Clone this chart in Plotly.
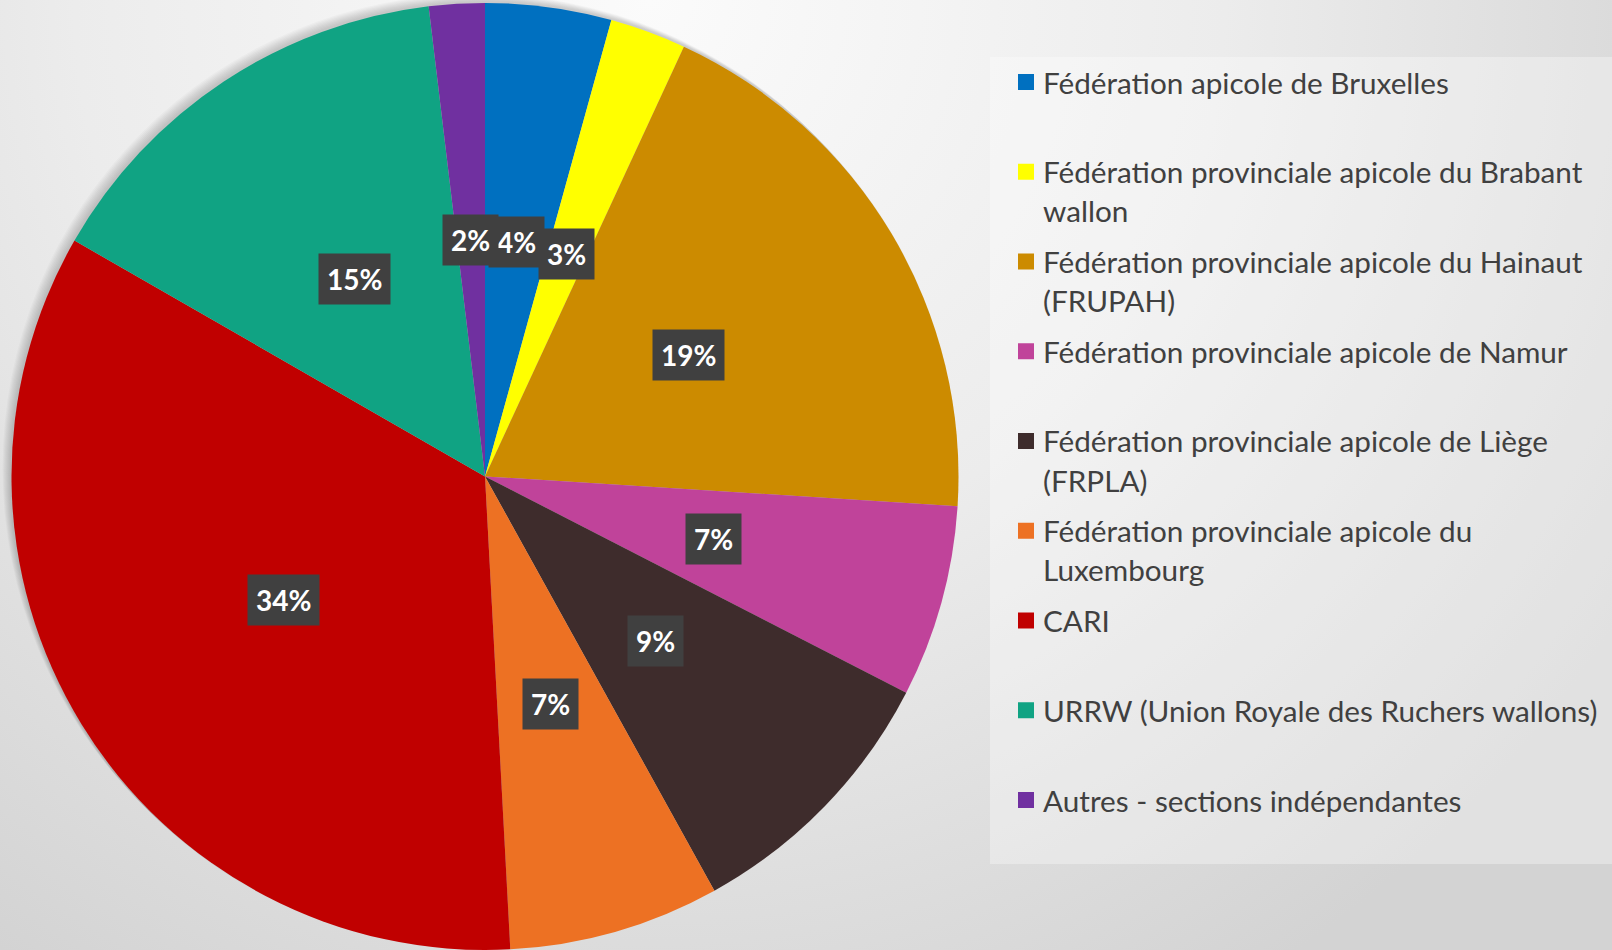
import math
import base64
import plotly.graph_objects as go

# ---- data ----
legend_lines = [
    ["Fédération apicole de Bruxelles"],
    ["Fédération provinciale apicole du Brabant", "wallon"],
    ["Fédération provinciale apicole du Hainaut", "(FRUPAH)"],
    ["Fédération provinciale apicole de Namur"],
    ["Fédération provinciale apicole de Liège", "(FRPLA)"],
    ["Fédération provinciale apicole du", "Luxembourg"],
    ["CARI"],
    ["URRW (Union Royale des Ruchers wallons)"],
    ["Autres - sections indépendantes"],
]
labels = [" ".join(l) for l in legend_lines]
values = [4.3, 2.6, 19.1, 6.55, 9.4, 7.2, 34.15, 14.8, 1.9]
colors = ["#0070C0", "#FFFF00", "#CC8B00", "#C0439A", "#3E2C2C",
          "#ED7123", "#C00000", "#10A383", "#7030A0"]

# ---- geometry (pixels) ----
W, H = 1612, 950
CX, CY, R = 485.0, 476.4, 473.5

def px(x):
    return x / W

def py(y):
    return 1 - y / H

fig = go.Figure(go.Pie(
    labels=labels, values=values, sort=False, direction="clockwise", rotation=0,
    marker=dict(colors=colors, line=dict(width=0)),
    textinfo="none", showlegend=False, hoverinfo="label+percent",
    domain=dict(x=[px(CX - R), px(CX + R)], y=[0.0, 0.997]),
))

# background gradient
svg = ("<svg xmlns='http://www.w3.org/2000/svg' width='1612' height='950' preserveAspectRatio='none'>"
       "<defs><radialGradient id='g' gradientUnits='userSpaceOnUse' cx='650' cy='0' r='1150' fx='650' fy='0'>"
       "<stop offset='0' stop-color='#fbfbfb'/><stop offset='0.5' stop-color='#ececec'/>"
       "<stop offset='1' stop-color='#d3d3d3'/></radialGradient></defs>"
       "<rect width='1612' height='950' fill='url(#g)'/></svg>")
src = "data:image/svg+xml;base64," + base64.b64encode(svg.encode()).decode()
images = [dict(source=src, xref="paper", yref="paper",
               x=0, y=1, sizex=1, sizey=1, xanchor="left", yanchor="top",
               sizing="stretch", layer="below")]

shapes = []
# soft drop shadow towards the upper-left of the pie
for k in range(1, 9):
    r = R + 1
    shapes.append(dict(type="circle", xref="paper", yref="paper", layer="below",
                       x0=px(CX - r - k), x1=px(CX + r - k), y0=py(CY + r - k), y1=py(CY - r - k),
                       fillcolor="rgba(0,0,0,0.022)", line=dict(width=0)))
# legend panel
shapes.append(dict(type="rect", xref="paper", yref="paper", layer="below",
                   x0=px(990), x1=1, y0=py(864), y1=py(57),
                   fillcolor="rgba(255,255,255,0.33)", line=dict(width=0)))

annotations = []
# percent labels
total = sum(values)
cum = 0.0
for v in values:
    mid = (cum + v / 2) / total * 2 * math.pi
    cum += v
    x = CX + 0.5 * R * math.sin(mid)
    y = CY - 0.5 * R * math.cos(mid)
    annotations.append(dict(x=px(x), y=py(y), xref="paper", yref="paper",
                            text="<b>%d%%</b>" % int(v / total * 100 + 0.5), showarrow=False,
                            font=dict(family="Lato", size=28, color="white"),
                            bgcolor="#404040", borderpad=8, xanchor="center", yanchor="middle"))

# legend
LEG_Y0, LEG_STEP, LINE_H = 82.0, 89.75, 39.0
for i, (lines, c) in enumerate(zip(legend_lines, colors)):
    y0 = LEG_Y0 + i * LEG_STEP
    shapes.append(dict(type="rect", xref="paper", yref="paper",
                       x0=px(1018), x1=px(1034), y0=py(y0 + 8), y1=py(y0 - 8),
                       fillcolor=c, line=dict(width=0)))
    for j, t in enumerate(lines):
        annotations.append(dict(x=px(1041), y=py(y0 + j * LINE_H), xref="paper", yref="paper",
                                text=t, showarrow=False, xanchor="left", yanchor="middle",
                                font=dict(family="Lato", size=29.7, color="#404040")))

fig.update_layout(width=W, height=H, margin=dict(l=0, r=0, t=0, b=0),
                  paper_bgcolor="#e6e6e6", plot_bgcolor="rgba(0,0,0,0)",
                  images=images, shapes=shapes, annotations=annotations)
fig.write_html("out.html", config={"displayModeBar": False},
               post_script="document.body.style.margin='0';document.body.style.overflow='hidden';")
